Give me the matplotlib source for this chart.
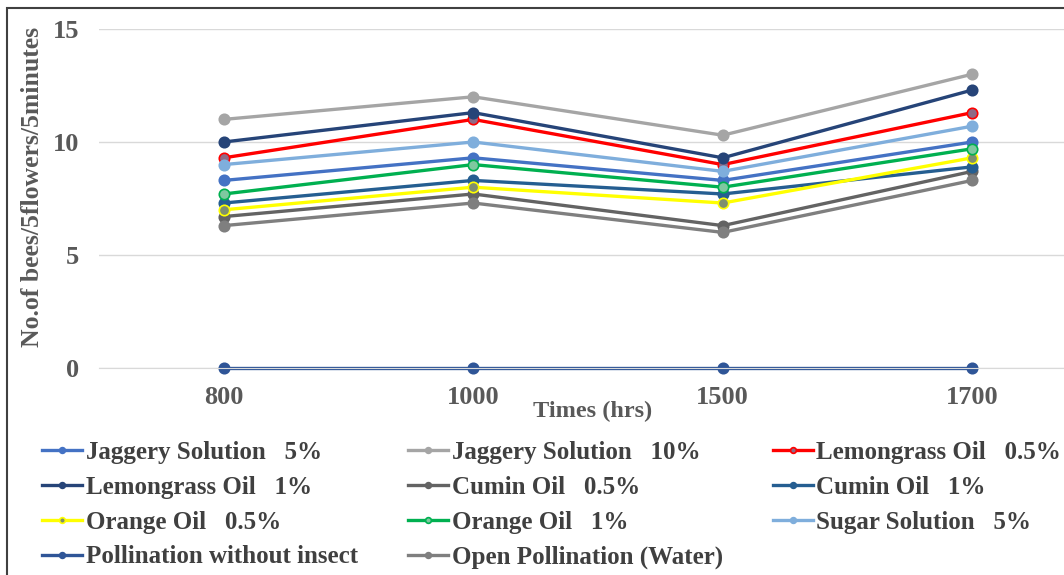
import matplotlib
matplotlib.use("Agg")
import matplotlib.pyplot as plt
from matplotlib.patches import Rectangle

# data
times = ["800", "1000", "1500", "1700"]

jaggery_5 = [8.3, 9.3, 8.3, 10.0]
jaggery_10 = [11.0, 12.0, 10.3, 13.0]
lemongrass_05 = [9.3, 11.0, 9.0, 11.3]
lemongrass_1 = [10.0, 11.3, 9.3, 12.3]
cumin_05 = [6.7, 7.7, 6.3, 8.7]
cumin_1 = [7.3, 8.3, 7.7, 8.9]
orange_05 = [7.0, 8.0, 7.3, 9.3]
orange_1 = [7.7, 9.0, 8.0, 9.7]
sugar_5 = [9.0, 10.0, 8.7, 10.7]
no_insect = [0, 0, 0, 0]
open_water = [6.3, 7.3, 6.0, 8.3]

series = [
    ("Jaggery Solution   5%", jaggery_5, "#4472C4", "#4472C4"),
    ("Jaggery Solution   10%", jaggery_10, "#A5A5A5", "#A5A5A5"),
    ("Lemongrass Oil   0.5%", lemongrass_05, "#FF0000", "#8E6A86"),
    ("Lemongrass Oil   1%", lemongrass_1, "#264478", "#264478"),
    ("Cumin Oil   0.5%", cumin_05, "#636363", "#636363"),
    ("Cumin Oil   1%", cumin_1, "#255E91", "#255E91"),
    ("Orange Oil   0.5%", orange_05, "#FFFF00", "#7F8F6F"),
    ("Orange Oil   1%", orange_1, "#00B050", "#7FC8A0"),
    ("Sugar Solution   5%", sugar_5, "#7FAEDC", "#7FAEDC"),
    ("Pollination without insect", no_insect, "#2F5597", "#2F5597"),
    ("Open Pollination (Water)", open_water, "#7F7F7F", "#7F7F7F"),
]

plt.rcParams["font.family"] = ["Liberation Serif", "DejaVu Serif"]
plt.rcParams["font.weight"] = "bold"

fig = plt.figure(figsize=(10.64, 5.75), dpi=100)
W, H = 1064, 575
ax = fig.add_axes([99 / W, (H - 368) / H, (1097 - 99) / W, 339 / H])

x = list(range(len(times)))
lines = []
for label, vals, col, mcol in series:
    ln, = ax.plot(x, vals, color=col, lw=2.4, marker="o", markersize=7.5,
                  markerfacecolor=mcol, markeredgecolor=col,
                  markeredgewidth=1.2, label=label, clip_on=False)
    lines.append(ln)

ax.set_xlim(-0.5, 3.5)
ax.set_ylim(0, 15)
ax.set_yticks([0, 5, 10, 15])
ax.set_xticks(x)
ax.set_xticklabels(times)
ax.grid(axis="y", color="#D9D9D9", lw=1)
ax.set_axisbelow(True)
for s in ["top", "right", "left"]:
    ax.spines[s].set_visible(False)
ax.spines["bottom"].set_color("#D9D9D9")
ax.tick_params(length=0, labelsize=19, labelcolor="#595959", pad=14)
ax.tick_params(axis="x", pad=13)

fig.text(593 / W, 1 - 411 / H, "Times (hrs)", ha="center", va="center",
         fontsize=17.5, color="#595959", fontweight="bold")
fig.text(33 / W, 1 - 187 / H, "No.of bees/5flowers/5minutes", ha="center", va="center",
         rotation=90, fontsize=18.5, color="#595959", fontweight="bold")

order = [0, 3, 6, 9, 1, 4, 7, 10, 2, 5, 8]
leg = fig.legend([lines[i] for i in order], [series[i][0] for i in order],
                 ncol=3, loc="upper left", bbox_to_anchor=(42 / W, 1 - 441 / H),
                 frameon=False, fontsize=18, handlelength=1.6, handletextpad=0.15,
                 columnspacing=2.0, labelspacing=0.47, markerscale=0.55,
                 borderpad=0, borderaxespad=0)
for t in leg.get_texts():
    t.set_color("#404040")

fig.patches.append(Rectangle((7 / W, -0.05), 1.2, 1 - 8 / H + 0.05, transform=fig.transFigure,
                             fill=False, edgecolor="#404040", lw=1.5))

fig.savefig("out.png", dpi=100)
